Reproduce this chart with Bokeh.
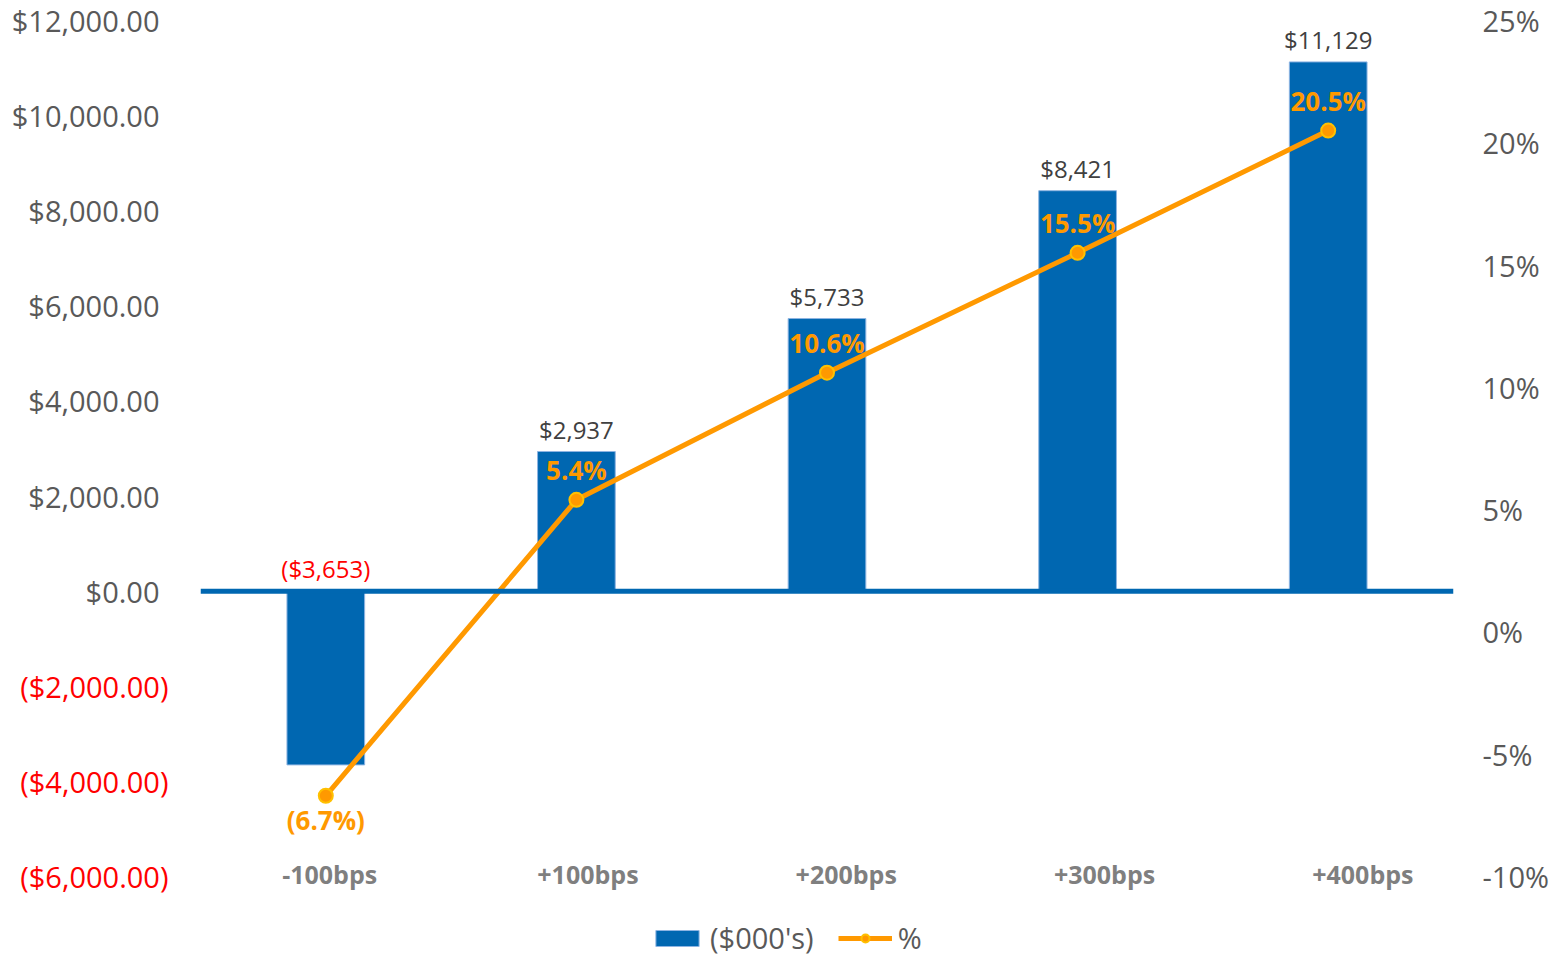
from bokeh.plotting import figure
from bokeh.models import (ColumnDataSource, Range1d, LinearAxis, FixedTicker,
                          NumeralTickFormatter, PrintfTickFormatter,
                          Span, Legend, LegendItem)
from bokeh.core.properties import value
from bokeh.embed import file_html
from bokeh.resources import INLINE

# ---- data ----
categories = ["-100bps", "+100bps", "+200bps", "+300bps", "+400bps"]
dollars = [-3653, 2937, 5733, 8421, 11129]          # ($000's)
percent = [-6.7, 5.4, 10.6, 15.5, 20.5]             # %
left_ticks_pos = [0, 2000, 4000, 6000, 8000, 10000, 12000]
left_ticks_neg = [-6000, -4000, -2000]
right_ticks = [-10, -5, 0, 5, 10, 15, 20, 25]

BLUE = "#0067B1"
ORANGE = "#FF9900"
RED = "#FF0000"
GRAY = "#595959"
FONT = "Open Sans"

xpos = [i + 0.5 for i in range(len(categories))]   # category slot centres

# frame extends to the bottom edge so the legend (drawn inside it) stays visible;
# the axis tick sets stop at -$6,000 / -10%
p = figure(width=1564, height=954, x_range=Range1d(0, len(categories)),
           y_range=Range1d(-7640, 12000), output_backend="svg", toolbar_location=None,
           x_axis_location=None, min_border_left=200, min_border_right=111,
           min_border_top=20, min_border_bottom=0)
p.outline_line_color = None
p.background_fill_color = "white"
p.border_fill_color = "white"
p.xgrid.visible = False
p.ygrid.visible = False
p.extra_y_ranges = {"pct": Range1d(-13.19, 25)}
p.extra_x_ranges = {"lab": Range1d(0, 4.851)}

# left axis (positive, gray)
ya = p.yaxis[0]
ya.ticker = FixedTicker(ticks=left_ticks_pos)
ya.formatter = NumeralTickFormatter(format="$0,0.00")
ya.major_label_text_color = GRAY
ya.major_label_text_font = FONT
ya.major_label_text_font_size = "29px"
ya.major_label_standoff = 35
ya.axis_line_color = None
ya.major_tick_line_color = None
ya.minor_tick_line_color = None

# left axis (negative, red)
yb = LinearAxis(ticker=FixedTicker(ticks=left_ticks_neg),
                formatter=NumeralTickFormatter(format="($0,0.00)"))
yb.major_label_text_color = RED
yb.major_label_text_font = FONT
yb.major_label_text_font_size = "29px"
yb.major_label_standoff = -166
yb.axis_line_color = None
yb.major_tick_line_color = None
yb.minor_tick_line_color = None
p.add_layout(yb, "left")

# right axis
yr = LinearAxis(y_range_name="pct", ticker=FixedTicker(ticks=right_ticks),
                formatter=PrintfTickFormatter(format="%d%%"))
yr.major_label_text_color = GRAY
yr.major_label_text_font = FONT
yr.major_label_text_font_size = "29px"
yr.major_label_standoff = 23
yr.axis_line_color = None
yr.major_tick_line_color = None
yr.minor_tick_line_color = None
p.add_layout(yr, "right")

# category labels (at the bottom of the value axis)
csrc = ColumnDataSource(dict(x=xpos, y=[left_ticks_neg[0]] * len(categories), t=categories))
p.text(x="x", y="y", text="t", source=csrc, x_range_name="lab", text_align="center",
       text_baseline="middle", y_offset=-3, text_color="#7F7F7F", text_font=value(FONT),
       text_font_style="bold", text_font_size="25px")

# bars
src = ColumnDataSource(dict(x=xpos, val=dollars))
bars = p.vbar(x="x", top="val", bottom=0, width=0.31, source=src,
              fill_color=BLUE, line_color="#8DB4E2", line_width=1)

# zero line
p.add_layout(Span(location=0, dimension="width", line_color=BLUE, line_width=5))

# line
lsrc = ColumnDataSource(dict(x=xpos, pct=percent))
ln = p.line(x="x", y="pct", source=lsrc, y_range_name="pct", line_color=ORANGE, line_width=5)
mk = p.scatter(x="x", y="pct", source=lsrc, y_range_name="pct", size=14,
               fill_color=ORANGE, line_color="#FFC000", line_width=2)

# bar labels
def money(v):
    s = "${:,.0f}".format(abs(v))
    return "(" + s + ")" if v < 0 else s

blab = ColumnDataSource(dict(x=xpos, y=[max(v, 0) for v in dollars],
                             t=[money(v) for v in dollars],
                             c=[RED if v < 0 else "#404040" for v in dollars]))
p.text(x="x", y="y", text="t", text_color="c", source=blab, text_align="center",
       text_baseline="bottom", y_offset=-6, text_font=value(FONT), text_font_size="24px")

# percent labels
def pfmt(v):
    s = "{:.1f}%".format(abs(v))
    return "(" + s + ")" if v < 0 else s

pos = [(x, v) for x, v in zip(xpos, percent) if v >= 0]
neg = [(x, v) for x, v in zip(xpos, percent) if v < 0]
psrc = ColumnDataSource(dict(x=[a for a, _ in pos], y=[v for _, v in pos], t=[pfmt(v) for _, v in pos]))
nsrc = ColumnDataSource(dict(x=[a for a, _ in neg], y=[v for _, v in neg], t=[pfmt(v) for _, v in neg]))
p.text(x="x", y="y", text="t", source=psrc, y_range_name="pct", text_align="center",
       text_baseline="middle", y_offset=-30, text_color=ORANGE, text_font=value(FONT),
       text_font_style="bold", text_font_size="26px")
p.text(x="x", y="y", text="t", source=nsrc, y_range_name="pct", text_align="center",
       text_baseline="middle", y_offset=24, text_color=ORANGE, text_font=value(FONT),
       text_font_style="bold", text_font_size="26px")

# legend (inside the extended frame, bottom area)
legend = Legend(items=[LegendItem(label="($000's)", renderers=[bars]),
                       LegendItem(label="%", renderers=[ln, mk])],
                orientation="horizontal", location=(450, -3), padding=0, margin=0,
                spacing=24, label_standoff=6, glyph_width=54, glyph_height=20,
                label_text_font=FONT, label_text_font_size="29px", label_text_color=GRAY,
                border_line_color=None, background_fill_alpha=0)
p.add_layout(legend, "center")

open("out.html", "w").write(file_html(p, INLINE))
